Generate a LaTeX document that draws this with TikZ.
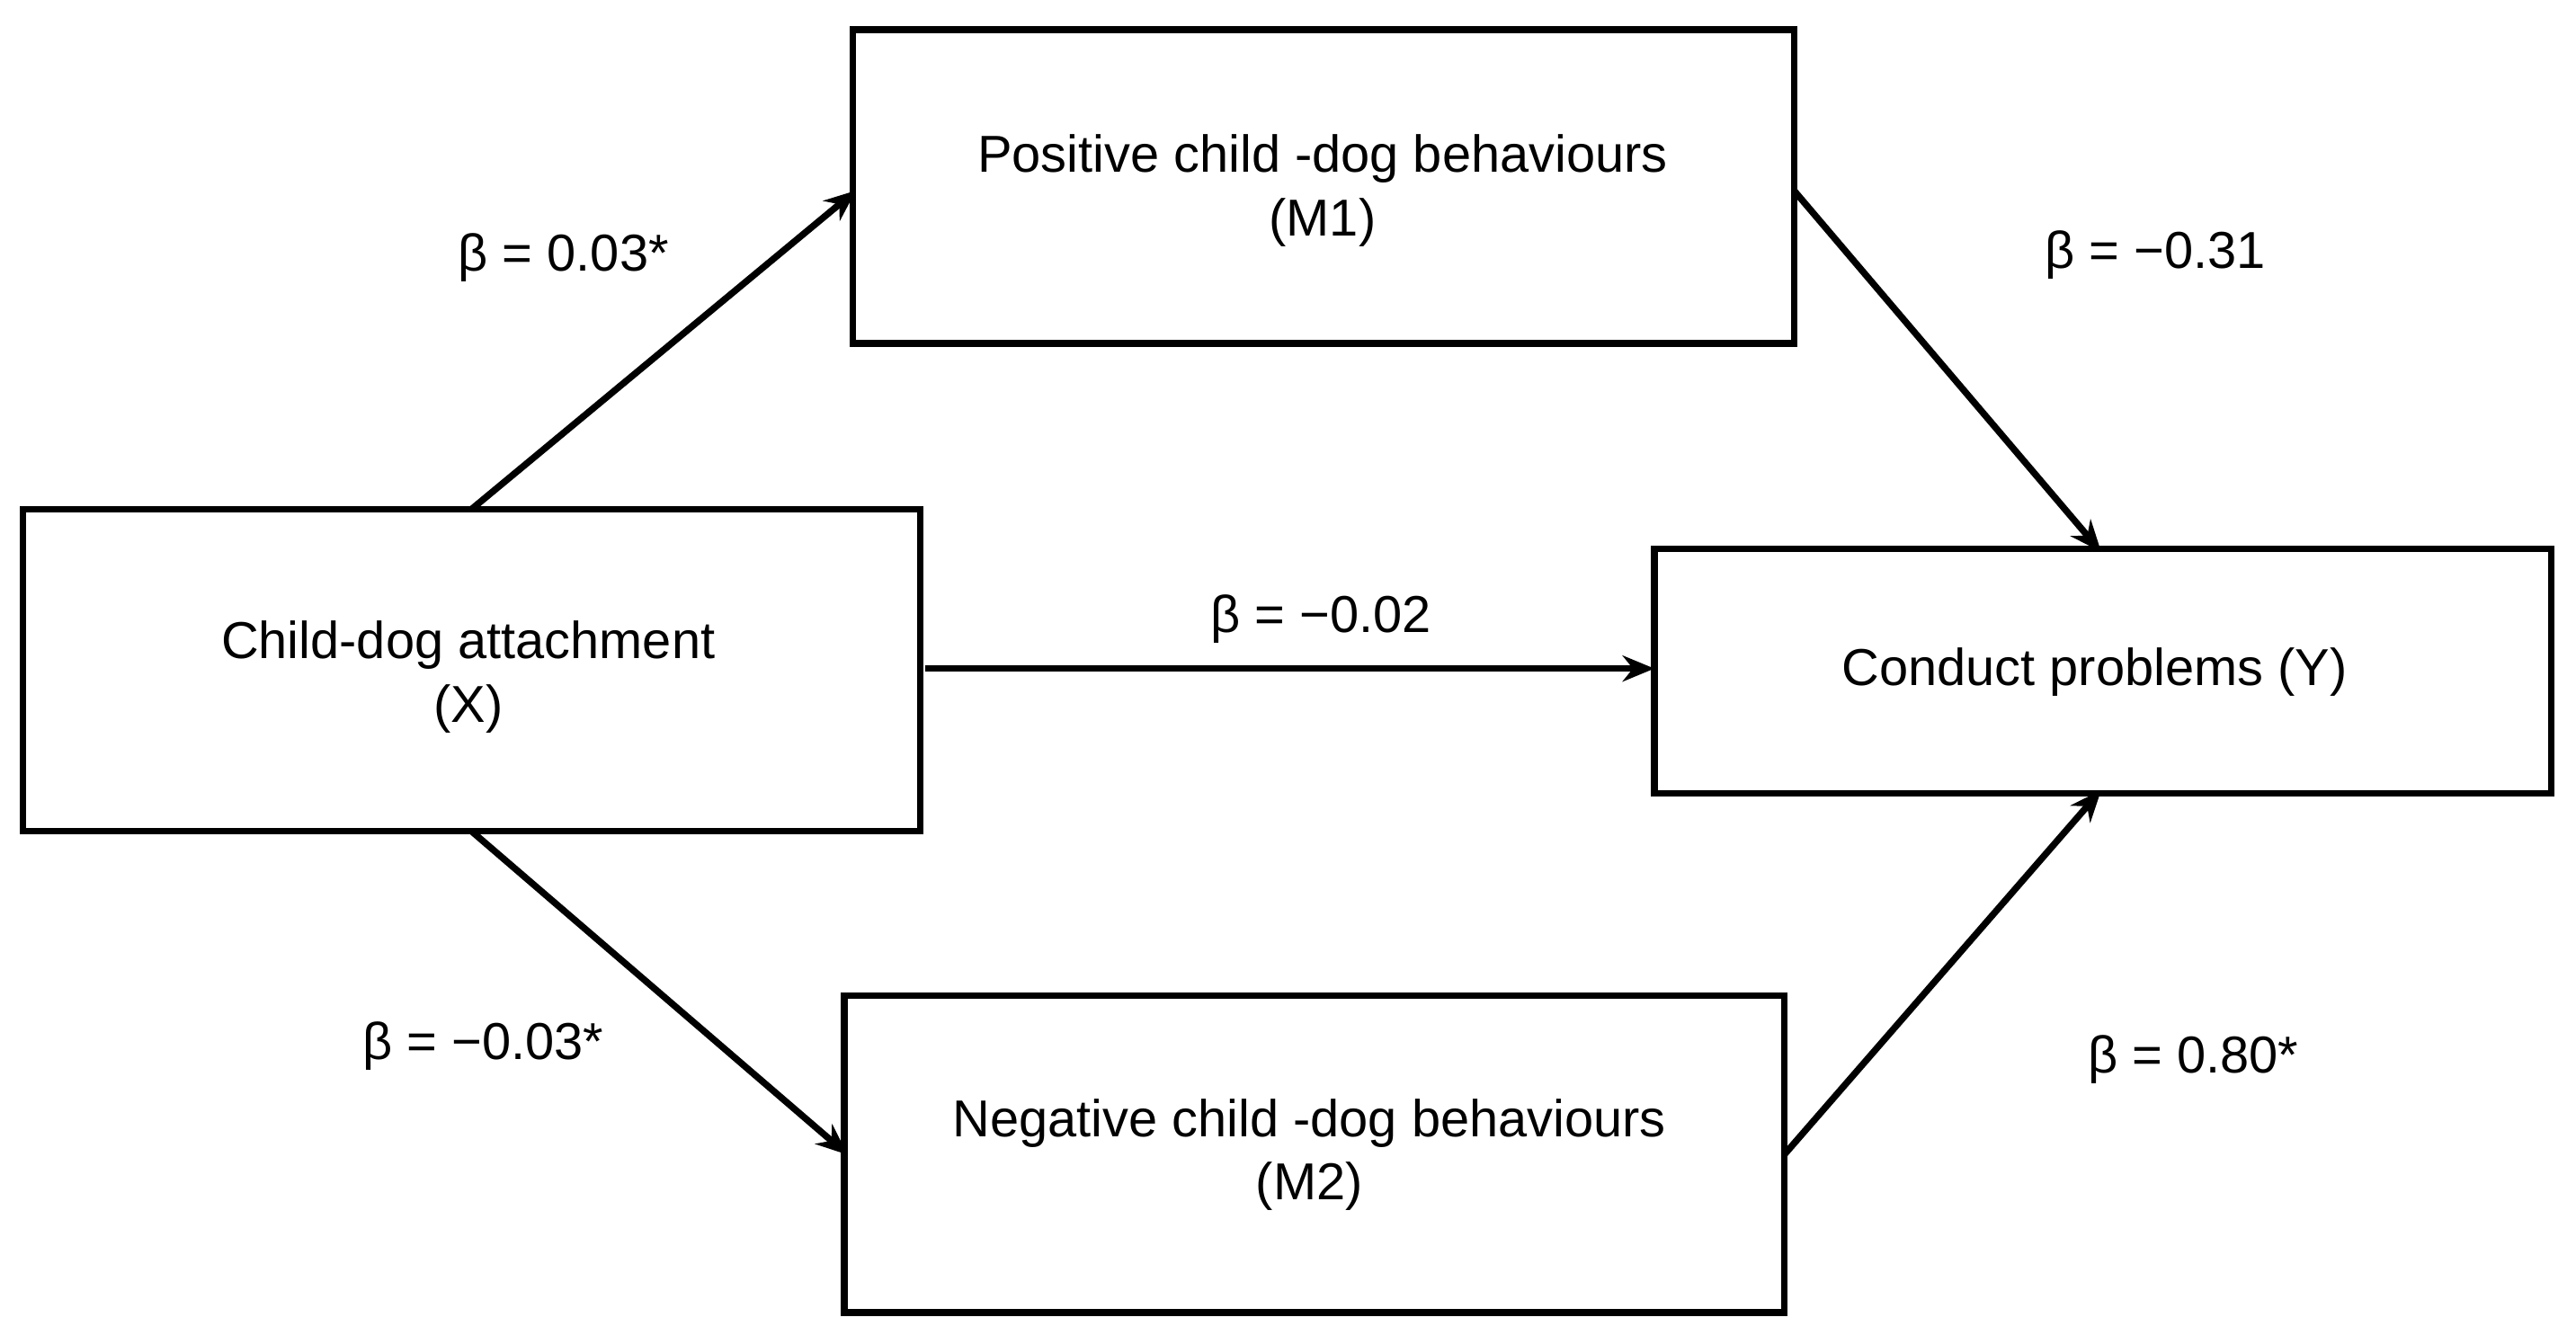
\documentclass[tikz,border=0pt]{standalone}
\usepackage{fontspec}
\setmainfont{Liberation Sans}
\usetikzlibrary{arrows.meta}
\begin{document}
\begin{tikzpicture}[x=0.02cm,y=-0.02cm,
 box/.style={draw,line width=2.3pt,inner sep=0pt},
 arr/.style={line width=2.3pt,-{Stealth[length=11pt,width=9pt]}},
 lab/.style={font=\fontsize{18}{22}\selectfont},
 txt/.style={font=\fontsize{18}{22}\selectfont,align=center}]
\useasboundingbox (0,0) rectangle (1568,818);
\draw[box] (519,18) rectangle (1092,209);
\draw[box] (14,310) rectangle (560,506);
\draw[box] (1007,334) rectangle (1553,483);
\draw[box] (514,606) rectangle (1086,799);
\node[txt] (m1) at (805,116) {Positive child -dog behaviours\\(M1)};
\node[txt] (x) at (285,412) {Child-dog attachment\\(X)};
\node[txt] (y) at (1275,409) {Conduct problems (Y)};
\node[txt] (m2) at (797,703) {Negative child -dog behaviours\\(M2)};
\coordinate (xt) at (287,310); \coordinate (m1l) at (521,116);
\coordinate (m1r) at (1092,116); \coordinate (yt) at (1279,336);
\coordinate (xr) at (563,407); \coordinate (yl) at (1007,407);
\coordinate (xb) at (287,506); \coordinate (m2l) at (516,703);
\coordinate (m2r) at (1086,703); \coordinate (yb) at (1279,481);
\draw[arr] (xt) -- (m1l);
\draw[arr] (m1r) -- (yt);
\draw[arr] (xr) -- (yl);
\draw[arr] (xb) -- (m2l);
\draw[arr] (m2r) -- (yb);
\node[lab] (l1) at (343,157) {β = 0.03*};
\node[lab] (l2) at (1312,155) {β = −0.31};
\node[lab] (l3) at (804,377) {β = −0.02};
\node[lab] (l4) at (294,637) {β = −0.03*};
\node[lab] (l5) at (1335,645) {β = 0.80*};
\end{tikzpicture}
\end{document}
